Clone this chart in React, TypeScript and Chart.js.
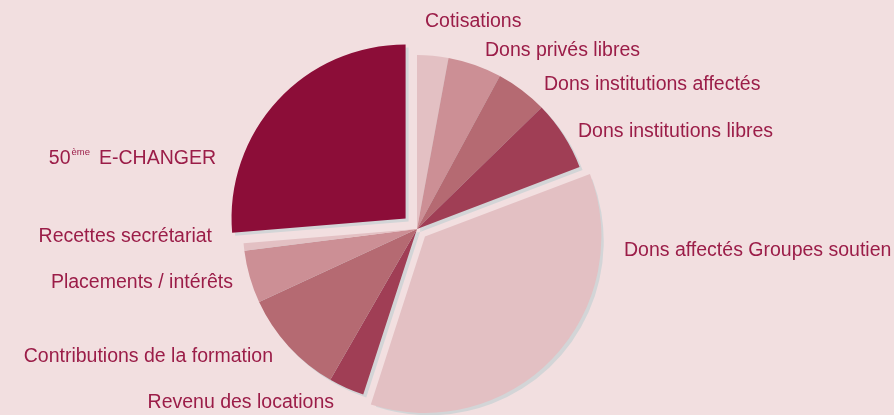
import React, { useEffect, useRef } from "react";
import { Chart, registerables } from "chart.js";

Chart.register(...registerables);

const categories = [
  "Cotisations",
  "Dons privés libres",
  "Dons institutions affectés",
  "Dons institutions libres",
  "Dons affectés Groupes soutien",
  "Revenu des locations",
  "Contributions de la formation",
  "Placements / intérêts",
  "Recettes secrétariat",
  "50ème E-CHANGER",
];
const shares = [2.9, 5.0, 4.8, 6.5, 35.8, 3.3, 9.8, 4.9, 0.7, 26.3];
const sliceColors = [
  "#e3c0c3", "#cc8f95", "#b56a72", "#a03e55", "#e3c0c3",
  "#a03e55", "#b56a72", "#cc8f95", "#e3c0c3", "#8c0d38",
];
const sliceOffsets = [0, 0, 0, 0, 44, 0, 0, 0, 0, 62];
// label anchors relative to the pie centre (left-aligned on the right side, right-aligned on the left)
const labelDx = [8, 68, 127, 161, 207, -83, -144, -184, -205, -202];
const labelDy = [-202, -173, -139, -92, 27, 179, 133, 59, 13, -65];

const BG = "#f2dfe0";
const TEXT = "#9b1d48";
const SHADOW = "#d3d5d7";
const FONT = '"Liberation Sans", Arial, sans-serif';

const shadowPlugin = {
  id: "sliceShadow",
  beforeDatasetsDraw(chart: any) {
    const ctx = chart.ctx;
    const meta = chart.getDatasetMeta(0);
    ctx.save();
    ctx.fillStyle = SHADOW;
    meta.data.forEach((arc: any) => {
      const p = arc.getProps(["x", "y", "startAngle", "endAngle", "outerRadius"], true);
      const circ = p.endAngle - p.startAngle;
      const off = (arc.options.offset || 0) / 4;
      const fix = 1 - Math.sin(Math.min(Math.PI, circ));
      const d = off * (1 + fix);
      const mid = (p.startAngle + p.endAngle) / 2;
      const cx = p.x + Math.cos(mid) * d + 3;
      const cy = p.y + Math.sin(mid) * d + 3;
      ctx.beginPath();
      ctx.moveTo(cx, cy);
      ctx.arc(cx, cy, p.outerRadius, p.startAngle, p.endAngle);
      ctx.closePath();
      ctx.fill();
    });
    ctx.restore();
  },
};

const labelPlugin = {
  id: "sliceLabels",
  afterDatasetsDraw(chart: any) {
    const ctx = chart.ctx;
    const meta = chart.getDatasetMeta(0);
    const c = meta.data[0];
    const ox = c.x;
    const oy = c.y;
    ctx.save();
    ctx.fillStyle = TEXT;
    ctx.textBaseline = "alphabetic";
    categories.forEach((label, i) => {
      const x = ox + labelDx[i];
      const y = oy + labelDy[i];
      const left = labelDx[i] >= 0;
      if (label.startsWith("50ème")) {
        const main = "E-CHANGER";
        ctx.font = `19.5px ${FONT}`;
        const wMain = ctx.measureText(main).width;
        ctx.font = `9.5px ${FONT}`;
        const wSup = ctx.measureText("ème").width;
        ctx.font = `19.5px ${FONT}`;
        const w50 = ctx.measureText("50").width;
        const gap = 9;
        const total = w50 + wSup + gap + wMain;
        let sx = left ? x : x - total;
        ctx.textAlign = "left";
        ctx.fillText("50", sx, y);
        sx += w50 + 1;
        ctx.font = `9.5px ${FONT}`;
        ctx.fillText("ème", sx, y - 9);
        sx += wSup + gap;
        ctx.font = `19.5px ${FONT}`;
        ctx.fillText(main, sx, y);
      } else {
        ctx.font = `19.5px ${FONT}`;
        ctx.textAlign = left ? "left" : "right";
        ctx.fillText(label, x, y);
      }
    });
    ctx.restore();
  },
};

export default function App() {
  const ref = useRef<HTMLCanvasElement | null>(null);
  useEffect(() => {
    if (!ref.current) return;
    const chart = new Chart(ref.current, {
      type: "pie",
      data: {
        labels: categories,
        datasets: [
          {
            data: shares,
            backgroundColor: sliceColors,
            offset: sliceOffsets,
            borderWidth: 0,
          },
        ],
      },
      options: {
        responsive: false,
        maintainAspectRatio: false,
        animation: false,
        devicePixelRatio: 1,
        radius: 174,
        layout: { padding: { left: 0, right: 60, top: 43, bottom: 0 } },
        plugins: {
          legend: { display: false },
          tooltip: { enabled: false },
        },
      } as any,
      plugins: [shadowPlugin, labelPlugin],
    });
    return () => chart.destroy();
  }, []);
  return (
    <div
      style={{
        position: "fixed",
        left: 0,
        top: 0,
        width: 894,
        height: 415,
        background: BG,
      }}
    >
      <canvas ref={ref} width={894} height={415} style={{ display: "block" }} />
    </div>
  );
}
